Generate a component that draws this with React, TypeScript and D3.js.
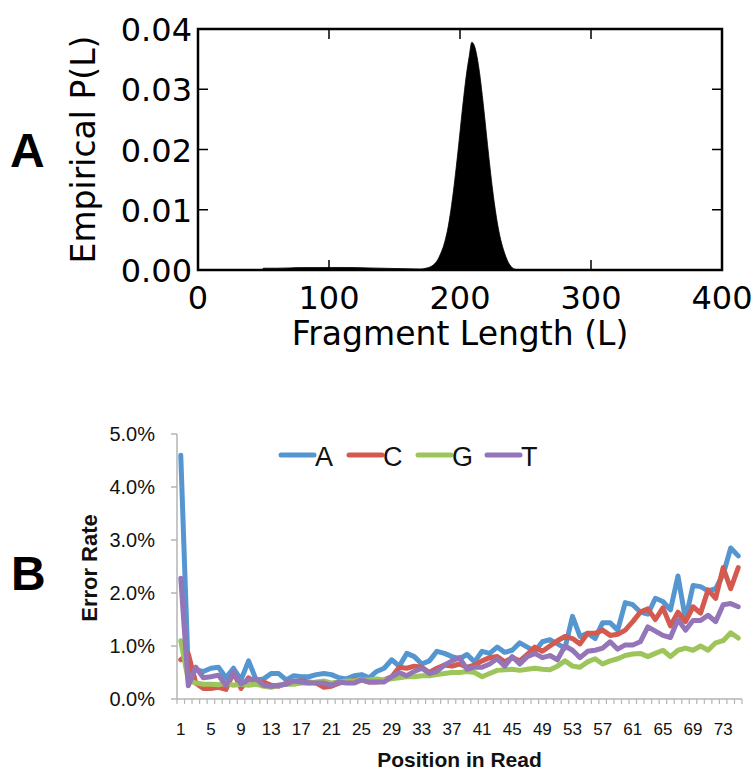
import React from 'react';
import * as d3 from 'd3';

// ---------- Panel A data: empirical fragment length distribution ----------
const fragLengths = [49, 50, 60, 70, 80, 90, 100, 110, 120, 130, 140, 150, 160, 170, 174, 178, 181, 183, 185, 187, 189, 191, 193, 195, 197, 199, 201, 203, 205, 207, 209, 211, 213, 215, 217, 219, 221, 223, 225, 227, 229, 231, 233, 235, 237, 239, 241, 244, 248, 252];
const fragProb = [0, 0.0003, 0.0003, 0.00035, 0.0004, 0.0004, 0.00042, 0.00042, 0.0004, 0.00035, 0.0003, 0.00025, 0.0002, 0.00015, 0.0003, 0.0006, 0.0011, 0.0017, 0.0026, 0.0037, 0.0052, 0.0072, 0.0099, 0.0131, 0.0168, 0.0208, 0.025, 0.029, 0.0326, 0.0354, 0.0378, 0.0372, 0.0354, 0.0326, 0.029, 0.025, 0.0208, 0.0168, 0.0131, 0.0099, 0.0072, 0.0051, 0.0035, 0.0022, 0.0012, 0.0006, 0.0002, 0.00005, 0.00001, 0];
const xTicksA = [0, 100, 200, 300, 400];
const yTicksA = [0, 0.01, 0.02, 0.03, 0.04];

// ---------- Panel B data: error rate by position in read ----------
const positions = Array.from({ length: 75 }, (_, i) => i + 1);
const errA = [4.6, 0.5, 0.55, 0.52, 0.58, 0.6, 0.4, 0.58, 0.36, 0.72, 0.36, 0.38, 0.48, 0.48, 0.36, 0.44, 0.42, 0.42, 0.46, 0.48, 0.46, 0.4, 0.38, 0.44, 0.46, 0.4, 0.52, 0.58, 0.74, 0.62, 0.86, 0.8, 0.66, 0.72, 0.9, 0.86, 0.8, 0.76, 0.84, 0.7, 0.9, 0.86, 0.98, 0.88, 0.92, 1.06, 0.98, 0.9, 1.08, 1.12, 1.04, 0.96, 1.56, 1.18, 1.24, 1.14, 1.44, 1.44, 1.3, 1.82, 1.78, 1.64, 1.6, 1.9, 1.84, 1.68, 2.32, 1.5, 2.14, 2.12, 2.04, 2.08, 2.35, 2.85, 2.7];
const errC = [0.74, 0.85, 0.3, 0.2, 0.2, 0.22, 0.18, 0.5, 0.2, 0.4, 0.3, 0.32, 0.26, 0.24, 0.3, 0.32, 0.34, 0.32, 0.3, 0.22, 0.24, 0.3, 0.32, 0.36, 0.36, 0.32, 0.32, 0.36, 0.42, 0.6, 0.58, 0.62, 0.6, 0.5, 0.58, 0.64, 0.62, 0.66, 0.6, 0.64, 0.72, 0.78, 0.8, 0.7, 0.78, 0.72, 0.84, 0.98, 0.9, 1.0, 1.1, 1.18, 1.14, 1.04, 1.24, 1.24, 1.3, 1.2, 1.22, 1.3, 1.46, 1.64, 1.7, 1.5, 1.72, 1.38, 1.64, 1.46, 1.74, 1.62, 2.06, 1.9, 2.48, 2.08, 2.48];
const errG = [1.1, 0.35, 0.3, 0.28, 0.28, 0.27, 0.3, 0.26, 0.28, 0.26, 0.28, 0.24, 0.22, 0.26, 0.28, 0.28, 0.3, 0.3, 0.32, 0.34, 0.3, 0.32, 0.34, 0.34, 0.36, 0.36, 0.38, 0.36, 0.38, 0.4, 0.42, 0.42, 0.44, 0.44, 0.46, 0.48, 0.5, 0.5, 0.52, 0.5, 0.42, 0.48, 0.54, 0.55, 0.56, 0.54, 0.56, 0.58, 0.56, 0.55, 0.62, 0.72, 0.62, 0.6, 0.7, 0.76, 0.66, 0.72, 0.76, 0.82, 0.85, 0.86, 0.8, 0.86, 0.92, 0.8, 0.92, 0.96, 0.92, 1.0, 0.92, 1.06, 1.1, 1.25, 1.15];
const errT = [2.28, 0.25, 0.6, 0.4, 0.42, 0.45, 0.26, 0.5, 0.28, 0.36, 0.38, 0.26, 0.24, 0.26, 0.28, 0.34, 0.32, 0.3, 0.3, 0.3, 0.26, 0.32, 0.3, 0.3, 0.36, 0.32, 0.32, 0.32, 0.42, 0.5, 0.44, 0.52, 0.58, 0.48, 0.52, 0.64, 0.72, 0.78, 0.56, 0.6, 0.6, 0.66, 0.76, 0.62, 0.8, 0.66, 0.8, 0.86, 0.78, 0.82, 0.74, 1.0, 0.92, 0.78, 0.9, 0.92, 0.96, 1.08, 0.94, 1.02, 1.02, 1.08, 1.36, 1.28, 1.2, 1.16, 1.5, 1.3, 1.48, 1.48, 1.58, 1.46, 1.78, 1.8, 1.74];
const seriesNames = ['A', 'C', 'G', 'T'];
const seriesValues = [errA, errC, errG, errT];
const seriesColors = ['#5596d1', '#d45a4f', '#9dc55b', '#9375b8'];
const yTicksB = [0, 1, 2, 3, 4, 5];
const xLabelEvery = 4;

export default function App() {
  // ---- Panel A scales ----
  const xA = d3.scaleLinear().domain([0, 400]).range([198, 722]);
  const yA = d3.scaleLinear().domain([0, 0.04]).range([270, 29]);
  const areaA = d3
    .area<number>()
    .x((_, i) => xA(fragLengths[i]))
    .y0(yA(0))
    .y1((d) => yA(d))
    .curve(d3.curveMonotoneX);
  const dejavu = '"DejaVu Sans", sans-serif';

  // ---- Panel B scales ----
  const xB = d3.scaleBand<number>().domain(positions).range([177, 742]).padding(0);
  const bw = xB.bandwidth();
  const yB = d3.scaleLinear().domain([0, 5]).range([699, 434]);
  const lineB = d3
    .line<number>()
    .x((_, i) => (xB(positions[i]) as number) + bw / 2)
    .y((d) => yB(d));
  const lib = '"Liberation Sans", Arial, sans-serif';
  const axisGray = '#b5b5b5';
  const legendX = [281, 349, 418, 487];

  return (
    <svg width={756} height={771} style={{ position: 'absolute', left: 0, top: 0, background: '#fff' }}>
      <rect x={0} y={0} width={756} height={771} fill="#fff" />
      {/* ================= Panel A ================= */}
      <text x={10} y={167} fontFamily={lib} fontWeight="bold" fontSize={48} fill="#000">A</text>
      <path d={areaA(fragProb) || ''} fill="#000" stroke="#000" strokeWidth={0.8} />
      {xTicksA.slice(1, -1).map((t) => (
        <g key={'xt' + t}>
          <line x1={xA(t)} x2={xA(t)} y1={yA(0)} y2={yA(0) - 10} stroke="#000" strokeWidth={1.5} />
          <line x1={xA(t)} x2={xA(t)} y1={yA(0.04)} y2={yA(0.04) + 10} stroke="#000" strokeWidth={1.5} />
        </g>
      ))}
      {yTicksA.slice(1, -1).map((t) => (
        <g key={'yt' + t}>
          <line x1={xA(0)} x2={xA(0) + 10} y1={yA(t)} y2={yA(t)} stroke="#000" strokeWidth={1.5} />
          <line x1={xA(400)} x2={xA(400) - 10} y1={yA(t)} y2={yA(t)} stroke="#000" strokeWidth={1.5} />
        </g>
      ))}
      <rect x={xA(0)} y={yA(0.04)} width={xA(400) - xA(0)} height={yA(0) - yA(0.04)} fill="none" stroke="#000" strokeWidth={2.5} />
      {xTicksA.map((t) => (
        <text key={'xl' + t} x={xA(t)} y={309} textAnchor="middle" fontFamily={dejavu} fontSize={32} fill="#000">{t}</text>
      ))}
      {yTicksA.map((t) => (
        <text key={'yl' + t} x={192} y={yA(t) + 12} textAnchor="end" fontFamily={dejavu} fontSize={32} fill="#000">{t.toFixed(2)}</text>
      ))}
      <text x={(xA(0) + xA(400)) / 2} y={345} textAnchor="middle" fontFamily={dejavu} fontSize={33} fill="#000">Fragment Length (L)</text>
      <text transform={`translate(95,${(yA(0) + yA(0.04)) / 2}) rotate(-90)`} textAnchor="middle" fontFamily={dejavu} fontSize={33} fill="#000">Empirical P(L)</text>

      {/* ================= Panel B ================= */}
      <text x={11} y={590} fontFamily={lib} fontWeight="bold" fontSize={48} fill="#000">B</text>
      <line x1={177} x2={177} y1={yB(5)} y2={yB(0)} stroke={axisGray} strokeWidth={1.5} />
      <line x1={177} x2={742} y1={yB(0)} y2={yB(0)} stroke={axisGray} strokeWidth={1.5} />
      {yTicksB.map((t) => (
        <line key={'bty' + t} x1={171} x2={177} y1={yB(t)} y2={yB(t)} stroke={axisGray} strokeWidth={1.5} />
      ))}
      {positions.concat([positions.length + 1]).map((p, i) => (
        <line key={'btx' + p} x1={177 + i * bw} x2={177 + i * bw} y1={yB(0)} y2={yB(0) + 5} stroke={axisGray} strokeWidth={1.2} />
      ))}
      {yTicksB.map((t) => (
        <text key={'byl' + t} x={155} y={yB(t) + 7} textAnchor="end" fontFamily={lib} fontSize={20} fill="#111">{t.toFixed(1) + '%'}</text>
      ))}
      {positions.filter((p) => (p - 1) % xLabelEvery === 0).map((p) => (
        <text key={'bxl' + p} x={(xB(p) as number) + bw / 2} y={735} textAnchor="middle" fontFamily={lib} fontSize={17} fill="#111">{p}</text>
      ))}
      <text x={459.5} y={767} textAnchor="middle" fontFamily={lib} fontWeight="bold" fontSize={21} fill="#111">Position in Read</text>
      <text transform={`translate(97,568) rotate(-90)`} textAnchor="middle" fontFamily={lib} fontWeight="bold" fontSize={22} fill="#111">Error Rate</text>
      {seriesValues.map((vals, i) => (
        <path key={'s' + i} d={lineB(vals) || ''} fill="none" stroke={seriesColors[i]} strokeWidth={5} strokeLinejoin="round" strokeLinecap="round" />
      ))}
      {seriesNames.map((n, i) => (
        <g key={'lg' + n}>
          <line x1={legendX[i]} x2={legendX[i] + 33} y1={455} y2={455} stroke={seriesColors[i]} strokeWidth={5} strokeLinecap="round" />
          <text x={legendX[i] + 34} y={466} fontFamily={lib} fontSize={27} fill="#111">{n}</text>
        </g>
      ))}
    </svg>
  );
}
